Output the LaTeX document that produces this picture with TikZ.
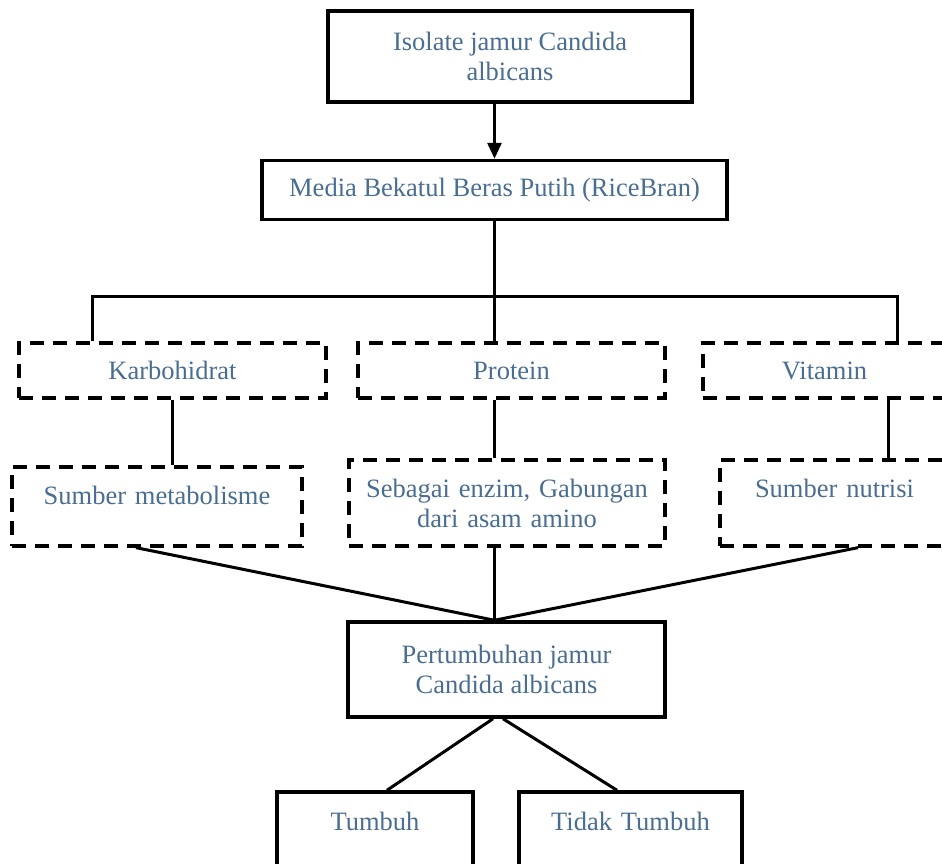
\documentclass[tikz,border=0pt]{standalone}
\usepackage{fontspec}
\setmainfont{Liberation Serif}
\usetikzlibrary{arrows.meta,calc}
\definecolor{txtblue}{RGB}{74,110,145}
\tikzset{
  solidbox/.style={draw=black, line width=3.5pt, rectangle, inner sep=0pt, align=center,
    text=txtblue, font=\fontsize{26.5}{30}\selectfont},
  dashbox/.style={solidbox, line width=3.3pt, dash pattern=on 14pt off 9pt},
  conn/.style={draw=black, line width=3pt},
}
\begin{document}
\begin{tikzpicture}[x=1pt,y=-1pt]
\useasboundingbox (0,0) rectangle (942,863);
\clip (0,0) rectangle (942,863);
\fill[white] (0,0) rectangle (942,863);

\node[solidbox, minimum width=364, minimum height=91] (iso) at (510,56.5) {Isolate jamur Candida\\albicans};
\node[solidbox, minimum width=465, minimum height=59] (media) at (494.5,190) {Media Bekatul Beras Putih (RiceBran)};

\node[dashbox, minimum width=307, minimum height=55] (karbo) at (172.5,370.5) {Karbohidrat};
\node[dashbox, minimum width=307, minimum height=55] (prot) at (511.5,370.5) {Protein};
\node[dashbox, minimum width=243, minimum height=55] (vit) at (824.5,370.5) {Vitamin};

\node[dashbox, text width=290, text height=18, text depth=23, inner ysep=19] (sm) at (157,506.5) {Sumber metabolisme};
\node[dashbox, text width=316, minimum height=86] (seb) at (507,503) {Sebagai enzim, Gabungan\\dari asam amino};
\node[dashbox, text width=229, text height=18, text depth=30, inner ysep=19] (sn) at (834.5,503) {Sumber nutrisi};

\node[solidbox, minimum width=317, minimum height=95] (pert) at (506.5,669.5) {Pertumbuhan jamur\\Candida albicans};

\node[solidbox, text width=196, text height=18, text depth=30, inner ysep=20] (tum) at (375,836) {Tumbuh};
\node[solidbox, text width=223, text height=18, text depth=30, inner ysep=20] (tid) at (630.5,836) {Tidak Tumbuh};

\coordinate (barL) at (92,296);
\coordinate (barR) at (897,296);
\coordinate (vx) at (888,0);
\coordinate (pj) at (media.south |- pert.north);

\draw[conn, -{Triangle[length=16pt,width=14pt]}] (iso.south -| media.north) -- (media.north);
\draw[conn] (media.south) -- (media.south |- prot.north);
\draw[conn] (barL |- karbo.north) -- (barL) -- (barR) -- (barR |- vit.north);
\draw[conn] (karbo.south) -- (karbo.south |- sm.north);
\draw[conn] (media.south |- prot.south) -- (media.south |- seb.north);
\draw[conn] (vx |- vit.south) -- (vx |- sn.north);

\draw[conn] ([xshift=-21]sm.south) -- (pj);
\draw[conn] (media.south |- seb.south) -- (pj);
\draw[conn] ([xshift=23.5]sn.south) -- (pj);

\draw[conn] ([xshift=-13.5]pert.south) -- ([xshift=12]tum.north);
\draw[conn] ([xshift=-3.5]pert.south) -- ([xshift=-13.5]tid.north);
\end{tikzpicture}
\end{document}
